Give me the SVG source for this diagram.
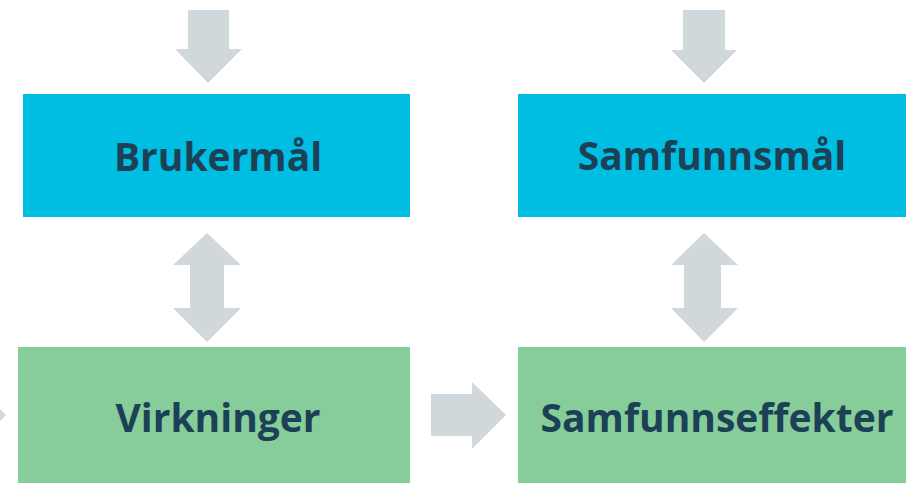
<svg xmlns="http://www.w3.org/2000/svg" width="917" height="483" viewBox="0 0 917 483">
<style>
.blue{fill:#00BDE2}
.green{fill:#86CD99}
.arr{fill:#D0D8DC}
.lbl{font-family:"Open Sans","Liberation Sans",sans-serif;font-weight:bold;font-size:39px;fill:#1C4157;text-anchor:middle}
</style>
<rect width="917" height="483" fill="#FFFFFF"/>
<g id="connectors">
<polygon class="arr" points="188,10 229,10 229,49 242,49 208,83 175,49 188,49"/>
<polygon class="arr" points="683,10 725,10 725,50 737,50 704,83 671,50 683,50"/>
<polygon class="arr" points="207,233 241,265 224,265 224,308 241,308 207,342 173,308 190,308 190,265 173,265"/>
<polygon class="arr" points="704,233 738,265 721,265 721,308 738,308 704,342 671,308 684,308 684,265 671,265"/>
<polygon class="arr" points="431,394 472,394 472,382 506,415 472,449 472,436 431,436"/>
<polygon class="arr" points="0,409 6,415 0,421"/>
</g>
<g id="brukermal">
<rect class="blue" x="23" y="94" width="387" height="123"/>
<text class="lbl" x="218" y="171">Brukermål</text>
</g>
<g id="samfunnsmal">
<rect class="blue" x="518" y="94" width="388" height="123"/>
<text class="lbl" x="712" y="170">Samfunnsmål</text>
</g>
<g id="virkninger">
<rect class="green" x="18" y="347" width="392" height="136"/>
<text class="lbl" x="218" y="432">Virkninger</text>
</g>
<g id="samfunnseffekter">
<rect class="green" x="518" y="347" width="388" height="136"/>
<text class="lbl" x="717" y="432">Samfunnseffekter</text>
</g>
</svg>
